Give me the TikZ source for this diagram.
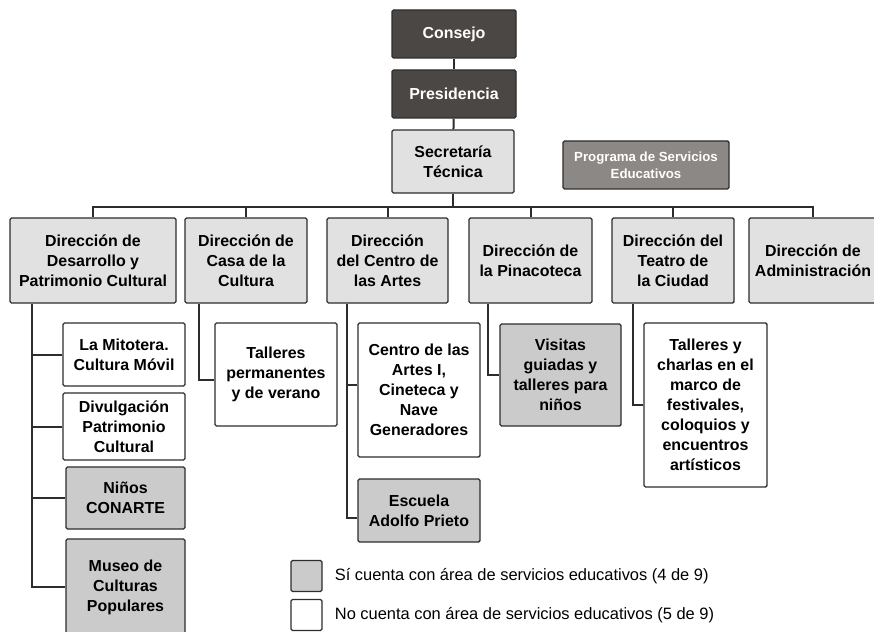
\documentclass[tikz,border=0pt]{standalone}
\usepackage{fontspec}
\setmainfont{Liberation Sans}
\usetikzlibrary{positioning}

\definecolor{oscuro}{HTML}{4B4744}
\definecolor{borde}{HTML}{2F2D2B}
\definecolor{claro}{HTML}{E1E1E1}
\definecolor{medio}{HTML}{CBCBCB}
\definecolor{prog}{HTML}{8B8886}

\tikzset{
  caja/.style={draw=borde, line width=1.4bp, rounded corners=1.5bp, align=center,
    inner sep=2bp, font=\fontsize{16}{20}\selectfont\bfseries},
  mando/.style={caja, fill=oscuro, text=white},
  direc/.style={caja, fill=claro},
  consi/.style={caja, fill=medio},
  conno/.style={caja, fill=white},
  linea/.style={draw=borde, line width=2bp}
}

\begin{document}
\begin{tikzpicture}[x=1bp, y=-1bp]
  \useasboundingbox (0,0) rectangle (874,632);

  %% arriba
  \node[mando, minimum width=124bp, minimum height=48bp] (consejo) at (454,34) {Consejo};
  \node[mando, minimum width=124bp, minimum height=48bp] (presid) at (454,94) {Presidencia};
  \node[direc, minimum width=122bp, minimum height=63bp] (secre) at (453,161.5) {Secretaría\\Técnica};
  \node[caja, fill=prog, text=white, minimum width=166bp, minimum height=48bp,
    font=\fontsize{13.3}{17}\selectfont\bfseries] (progr) at (646,165) {Programa de Servicios\\Educativos};

  %% direcciones
  \node[direc, minimum width=166bp, minimum height=85bp] (dir1) at (93,260.5) {Dirección de\\Desarrollo y\\Patrimonio Cultural};
  \node[direc, minimum width=122bp, minimum height=85bp] (dir2) at (246,260.5) {Dirección de\\Casa de la\\Cultura};
  \node[direc, minimum width=121bp, minimum height=85bp] (dir3) at (387.5,260.5) {Dirección\\del Centro de\\las Artes};
  \node[direc, minimum width=123bp, minimum height=85bp] (dir4) at (530.5,260.5) {Dirección de\\la Pinacoteca};
  \node[direc, minimum width=122bp, minimum height=85bp] (dir5) at (673,260.5) {Dirección del\\Teatro de\\la Ciudad};
  \node[direc, minimum width=128bp, minimum height=85bp] (dir6) at (813,260.5) {Dirección de\\Administración};

  \draw[linea] (consejo) -- (presid);
  \draw[linea] (presid) -- (secre);
  \coordinate (bus) at (0,207);
  \foreach \d in {dir1,dir2,dir3,dir4,dir5,dir6}
    \draw[linea] (secre.south) |- (bus -| \d) -- (\d.north);

  %% areas
  \node[conno, minimum width=122bp, minimum height=63bp] (mitotera) at (124,354.5) {La Mitotera.\\Cultura Móvil};
  \node[conno, minimum width=122bp, minimum height=67bp] (divulga) at (124,426.5) {Divulgación\\Patrimonio\\Cultural};
  \node[consi, minimum width=119bp, minimum height=62bp] (ninos) at (125.5,498) {Niños\\CONARTE};
  \node[consi, minimum width=119bp, minimum height=96bp] (museo) at (125.5,587) {Museo de\\Culturas\\Populares};
  \node[conno, minimum width=122bp, minimum height=103bp] (talleres) at (276,374.5) {Talleres\\permanentes\\y de verano};
  \node[conno, minimum width=122bp, minimum height=134bp] (centro) at (419,390) {Centro de las\\Artes I,\\Cineteca y\\Nave\\Generadores};
  \node[consi, minimum width=122bp, minimum height=63bp] (escuela) at (419,510.5) {Escuela\\Adolfo Prieto};
  \node[consi, minimum width=121bp, minimum height=102bp] (visitas) at (560.5,375) {Visitas\\guiadas y\\talleres para\\niños};
  \node[conno, minimum width=123bp, minimum height=164bp] (charlas) at (705.5,405) {Talleres y\\charlas en el\\marco de\\festivales,\\coloquios y\\encuentros\\artísticos};

  \coordinate (t1) at (32,0);
  \coordinate (t2) at (199,0);
  \coordinate (t3) at (347,0);
  \coordinate (t4) at (488,0);
  \coordinate (t5) at (633,0);
  \foreach \h in {mitotera,divulga,ninos,museo}
    \draw[linea] (dir1.south -| t1) |- (\h.west);
  \draw[linea] (dir2.south -| t2) |- ([yshift=-5.5bp]talleres.west);
  \draw[linea] (dir3.south -| t3) |- ([yshift=5bp]centro.west);
  \draw[linea] (dir3.south -| t3) |- ([yshift=-7bp]escuela.west);
  \draw[linea] (dir4.south -| t4) |- (visitas.west);
  \draw[linea] (dir5.south -| t5) |- (charlas.west);

  %% leyenda
  \node[consi, minimum width=31bp, minimum height=31bp] (legsi) at (306.5,576) {};
  \node[conno, minimum width=31bp, minimum height=31bp] (legno) at (306.5,615) {};
  \node[right=12bp of legsi, inner sep=0pt, font=\fontsize{16.5}{18}\selectfont] (txtsi) {Sí cuenta con área de servicios educativos (4 de 9)};
  \node[right=12bp of legno, inner sep=0pt, font=\fontsize{16.5}{18}\selectfont] (txtno) {No cuenta con área de servicios educativos (5 de 9)};
\end{tikzpicture}
\end{document}
